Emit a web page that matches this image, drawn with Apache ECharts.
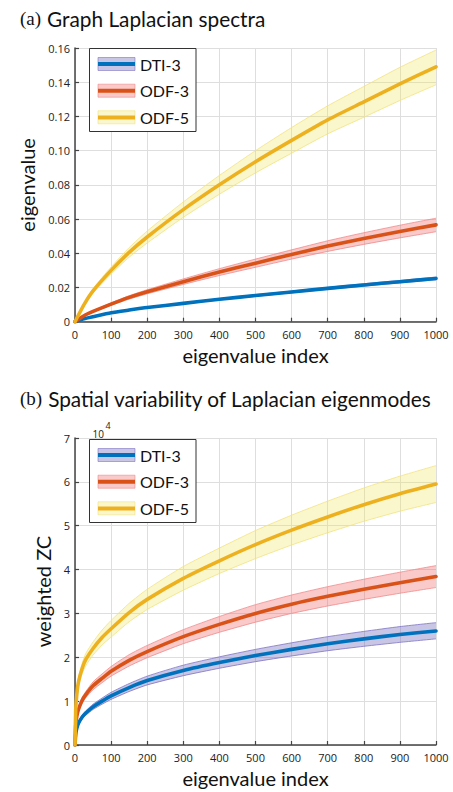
<!DOCTYPE html>
<html><head><meta charset="utf-8">
<script src="https://cdn.jsdelivr.net/npm/echarts@6/dist/echarts.min.js"></script>
<style>html,body{margin:0;padding:0;background:#fff}#c{width:453px;height:792px}</style>
</head><body><div id="c"></div>
<script>
// ---------- Panel (a): Graph Laplacian spectra ----------
const xTop = [0, 25, 50, 100, 150, 200, 300, 400, 500, 600, 700, 800, 900, 1000];
const topDTI    = [0, 0.0017, 0.0029, 0.0052, 0.0068, 0.0083, 0.0107, 0.0131, 0.0153, 0.0174, 0.0195, 0.0215, 0.0234, 0.0253];
const topDTIHi  = [0, 0.0018, 0.0030, 0.0054, 0.0070, 0.0086, 0.0110, 0.0135, 0.0158, 0.0179, 0.0201, 0.0222, 0.0241, 0.0261];
const topDTILo  = [0, 0.0016, 0.0028, 0.0050, 0.0066, 0.0080, 0.0104, 0.0127, 0.0148, 0.0169, 0.0189, 0.0208, 0.0227, 0.0245];
const topODF3   = [0, 0.0035, 0.0060, 0.0103, 0.0142, 0.0175, 0.0234, 0.0290, 0.0342, 0.0393, 0.0442, 0.0486, 0.0527, 0.0566];
const topODF3Hi = [0, 0.0037, 0.0064, 0.0110, 0.0152, 0.0187, 0.0250, 0.0310, 0.0366, 0.0420, 0.0473, 0.0520, 0.0564, 0.0605];
const topODF3Lo = [0, 0.0033, 0.0056, 0.0096, 0.0132, 0.0163, 0.0218, 0.0270, 0.0318, 0.0366, 0.0411, 0.0452, 0.0490, 0.0526];
const topODF5   = [0, 0.0100, 0.0180, 0.0300, 0.0405, 0.0495, 0.0655, 0.0800, 0.0935, 0.1060, 0.1180, 0.1285, 0.1390, 0.1490];
const topODF5Hi = [0, 0.0107, 0.0193, 0.0320, 0.0433, 0.0530, 0.0700, 0.0855, 0.1000, 0.1135, 0.1262, 0.1375, 0.1487, 0.1588];
const topODF5Lo = [0, 0.0093, 0.0167, 0.0279, 0.0377, 0.0460, 0.0610, 0.0745, 0.0870, 0.0985, 0.1098, 0.1195, 0.1293, 0.1385];

// ---------- Panel (b): weighted ZC (units of 10^4) ----------
const xBot = [0, 2, 5, 10, 20, 30, 50, 75, 100, 150, 200, 300, 400, 500, 600, 700, 800, 900, 1000];
const botDTI    = [0, 0.25, 0.38, 0.50, 0.64, 0.73, 0.87, 1.00, 1.12, 1.31, 1.47, 1.70, 1.88, 2.04, 2.18, 2.31, 2.42, 2.52, 2.60];
const botDTIHi  = [0, 0.27, 0.41, 0.54, 0.68, 0.78, 0.93, 1.07, 1.20, 1.40, 1.57, 1.82, 2.01, 2.18, 2.33, 2.47, 2.59, 2.70, 2.79];
const botDTILo  = [0, 0.23, 0.35, 0.46, 0.60, 0.68, 0.81, 0.93, 1.04, 1.22, 1.37, 1.58, 1.75, 1.90, 2.03, 2.15, 2.25, 2.34, 2.42];
const botODF3   = [0, 0.45, 0.65, 0.82, 1.02, 1.15, 1.35, 1.52, 1.68, 1.93, 2.13, 2.47, 2.75, 3.00, 3.21, 3.39, 3.55, 3.70, 3.84];
const botODF3Hi = [0, 0.48, 0.69, 0.87, 1.09, 1.22, 1.44, 1.62, 1.79, 2.06, 2.27, 2.63, 2.93, 3.20, 3.42, 3.61, 3.78, 3.94, 4.09];
const botODF3Lo = [0, 0.42, 0.61, 0.77, 0.95, 1.08, 1.26, 1.42, 1.57, 1.80, 1.99, 2.31, 2.57, 2.80, 3.00, 3.17, 3.32, 3.46, 3.59];
const botODF5   = [0, 0.80, 1.15, 1.45, 1.75, 1.95, 2.20, 2.45, 2.65, 3.02, 3.32, 3.80, 4.20, 4.57, 4.90, 5.20, 5.48, 5.73, 5.95];
const botODF5Hi = [0, 0.86, 1.23, 1.55, 1.87, 2.09, 2.35, 2.62, 2.84, 3.23, 3.55, 4.07, 4.49, 4.89, 5.24, 5.56, 5.86, 6.13, 6.37];
const botODF5Lo = [0, 0.74, 1.07, 1.35, 1.63, 1.81, 2.05, 2.28, 2.46, 2.81, 3.09, 3.53, 3.91, 4.25, 4.56, 4.84, 5.10, 5.33, 5.53];

const seriesNames = ['DTI-3', 'ODF-3', 'ODF-5'];
const xTicks = [0, 100, 200, 300, 400, 500, 600, 700, 800, 900, 1000];
const yTicksTop = [0, 0.02, 0.04, 0.06, 0.08, 0.10, 0.12, 0.14, 0.16];
const yTicksBot = [0, 1, 2, 3, 4, 5, 6, 7];

const lineColors = ['#0072BD', '#D95319', '#EDB120'];
const bandFills  = ['rgba(100,90,180,0.35)', 'rgba(240,100,100,0.35)', 'rgba(240,228,90,0.3)'];
const bandEdges  = ['#7d74c4', '#f08a8a', '#f2e27e'];

const FONT = 'Lato';
const SMOOTH = 0.2;
const chart = echarts.init(document.getElementById('c'), null, {renderer: 'svg'});

// Shaded range: a custom series that maps every [x, lo, hi] row through the axes.
function bandSeries(g, xs, lo, hi, k) {
  const data = xs.map((x, i) => [x, lo[i], hi[i]]);
  return {
    type: 'custom', name: seriesNames[k] + ' range', xAxisIndex: g, yAxisIndex: g,
    data: data, encode: {x: 0, y: [1, 2]}, silent: true, z: 2, clip: true,
    renderItem: function (params, api) {
      if (params.dataIndex !== 0) return null;
      const up = [], dn = [];
      for (let i = 0; i < data.length; i++) {
        up.push(api.coord([data[i][0], data[i][2]]));
        dn.push(api.coord([data[i][0], data[i][1]]));
      }
      const poly = up.concat(dn.slice().reverse());
      return {
        type: 'group', children: [
          {type: 'polygon', shape: {points: poly}, style: {fill: bandFills[k], stroke: null}},
          {type: 'polyline', shape: {points: up, smooth: SMOOTH}, style: {fill: null, stroke: bandEdges[k], lineWidth: 0.8}},
          {type: 'polyline', shape: {points: dn, smooth: SMOOTH}, style: {fill: null, stroke: bandEdges[k], lineWidth: 0.8}}
        ]
      };
    }
  };
}
function lineSeries(g, xs, ys, k) {
  return {
    type: 'line', name: seriesNames[k], xAxisIndex: g, yAxisIndex: g,
    data: xs.map((x, i) => [x, ys[i]]), showSymbol: false, symbol: 'none', z: 3,
    smooth: SMOOTH,
    color: lineColors[k], lineStyle: {width: 3.6, color: lineColors[k], cap: 'round', join: 'round'},
    emphasis: {disabled: true}
  };
}

const axisLabelStyle = {fontFamily: 'Open Sans', fontSize: 11, color: '#222'};
function xAxisCfg(g) {
  return {
    type: 'value', gridIndex: g, min: 0, max: 1000, interval: 100,
    name: 'eigenvalue index', nameLocation: 'middle', nameGap: 23,
    nameTextStyle: {fontFamily: FONT, fontSize: 20, color: '#111'},
    axisLine: {onZero: false, lineStyle: {color: '#444', width: 1.5}},
    axisTick: {inside: true, length: 4, lineStyle: {color: '#444', width: 1.2}},
    axisLabel: Object.assign({margin: 7, formatter: v => String(v)}, axisLabelStyle),
    splitLine: {show: true, lineStyle: {color: '#dedede', width: 1}}
  };
}
function yAxisCfg(g, max, interval, name, gap, fmt) {
  return {
    type: 'value', gridIndex: g, min: 0, max: max, interval: interval,
    name: name, nameLocation: 'middle', nameGap: gap,
    nameTextStyle: {fontFamily: FONT, fontSize: 20, color: '#111'},
    axisLine: {show: true, onZero: false, lineStyle: {color: '#444', width: 1.5}},
    axisTick: {show: true, inside: true, length: 4, lineStyle: {color: '#444', width: 1.2}},
    axisLabel: Object.assign({margin: 5, formatter: fmt}, axisLabelStyle),
    splitLine: {show: true, lineStyle: {color: '#dedede', width: 1}}
  };
}

function legendCfg(top) {
  return {
    orient: 'vertical', left: 98, top: top, padding: 0, itemGap: 8.7,
    itemWidth: 37, itemHeight: 4, icon: 'rect', z: 10, selectedMode: false,
    data: seriesNames,
    textStyle: {fontFamily: FONT, fontSize: 16, color: '#111', lineHeight: 18}
  };
}
function legendBox(y0, rows) {
  const els = [{type: 'rect', shape: {x: 89.5, y: y0, width: 106.5, height: 83}, style: {fill: '#fff', stroke: '#333', lineWidth: 1}, z: 5, silent: true}];
  rows.forEach((cy, k) => els.push({type: 'rect', shape: {x: 98, y: cy - 6.5, width: 37, height: 13}, style: {fill: bandFills[k], stroke: bandEdges[k], lineWidth: 0.6}, z: 6, silent: true}));
  return els;
}

const titleRich = {
  s: {fontFamily: 'Liberation Serif', fontSize: 19, fontWeight: 'normal', color: '#111', padding: [0, 6, 0, 0], lineHeight: 24},
  t: {fontFamily: FONT, fontSize: 20.8, fontWeight: 'normal', color: '#111', lineHeight: 24}
};

const option = {
  backgroundColor: '#fff',
  animation: false,
  title: [
    {left: 15, top: 1, text: '{s|(a)}{t|Graph Laplacian spectra}', textStyle: {fontWeight: 'normal', rich: titleRich}},
    {left: 15, top: 381, text: '{s|(b)}{t|Spatial variability of Laplacian eigenmodes}', textStyle: {fontWeight: 'normal', rich: titleRich}}
  ],
  grid: [
    {left: 75, right: 17, top: 48, height: 273.7},
    {left: 75, right: 17, top: 438, height: 307}
  ],
  xAxis: [xAxisCfg(0), xAxisCfg(1)],
  yAxis: [
    yAxisCfg(0, 0.16, 0.02, 'eigenvalue', 32, v => v === 0 ? '0' : v.toFixed(2)),
    yAxisCfg(1, 7, 1, 'weighted ZC', 18, v => String(v))
  ],
  legend: [legendCfg(55), legendCfg(446)],
  graphic: [].concat(
    legendBox(48.5, [64, 90.7, 117.3]),
    legendBox(439.5, [455, 481.7, 508.3]),
    [
      {type: 'text', x: 92.5, y: 428.5, style: {text: '10', fontFamily: 'Open Sans', fontSize: 10, fill: '#222'}, z: 6},
      {type: 'text', x: 105.5, y: 421, style: {text: '4', fontFamily: 'Open Sans', fontSize: 9, fill: '#222'}, z: 6}
    ]
  ),
  series: [
    bandSeries(0, xTop, topDTILo, topDTIHi, 0), lineSeries(0, xTop, topDTI, 0),
    bandSeries(0, xTop, topODF3Lo, topODF3Hi, 1), lineSeries(0, xTop, topODF3, 1),
    bandSeries(0, xTop, topODF5Lo, topODF5Hi, 2), lineSeries(0, xTop, topODF5, 2),
    bandSeries(1, xBot, botDTILo, botDTIHi, 0), lineSeries(1, xBot, botDTI, 0),
    bandSeries(1, xBot, botODF3Lo, botODF3Hi, 1), lineSeries(1, xBot, botODF3, 1),
    bandSeries(1, xBot, botODF5Lo, botODF5Hi, 2), lineSeries(1, xBot, botODF5, 2)
  ]
};
chart.setOption(option);
</script></body></html>
